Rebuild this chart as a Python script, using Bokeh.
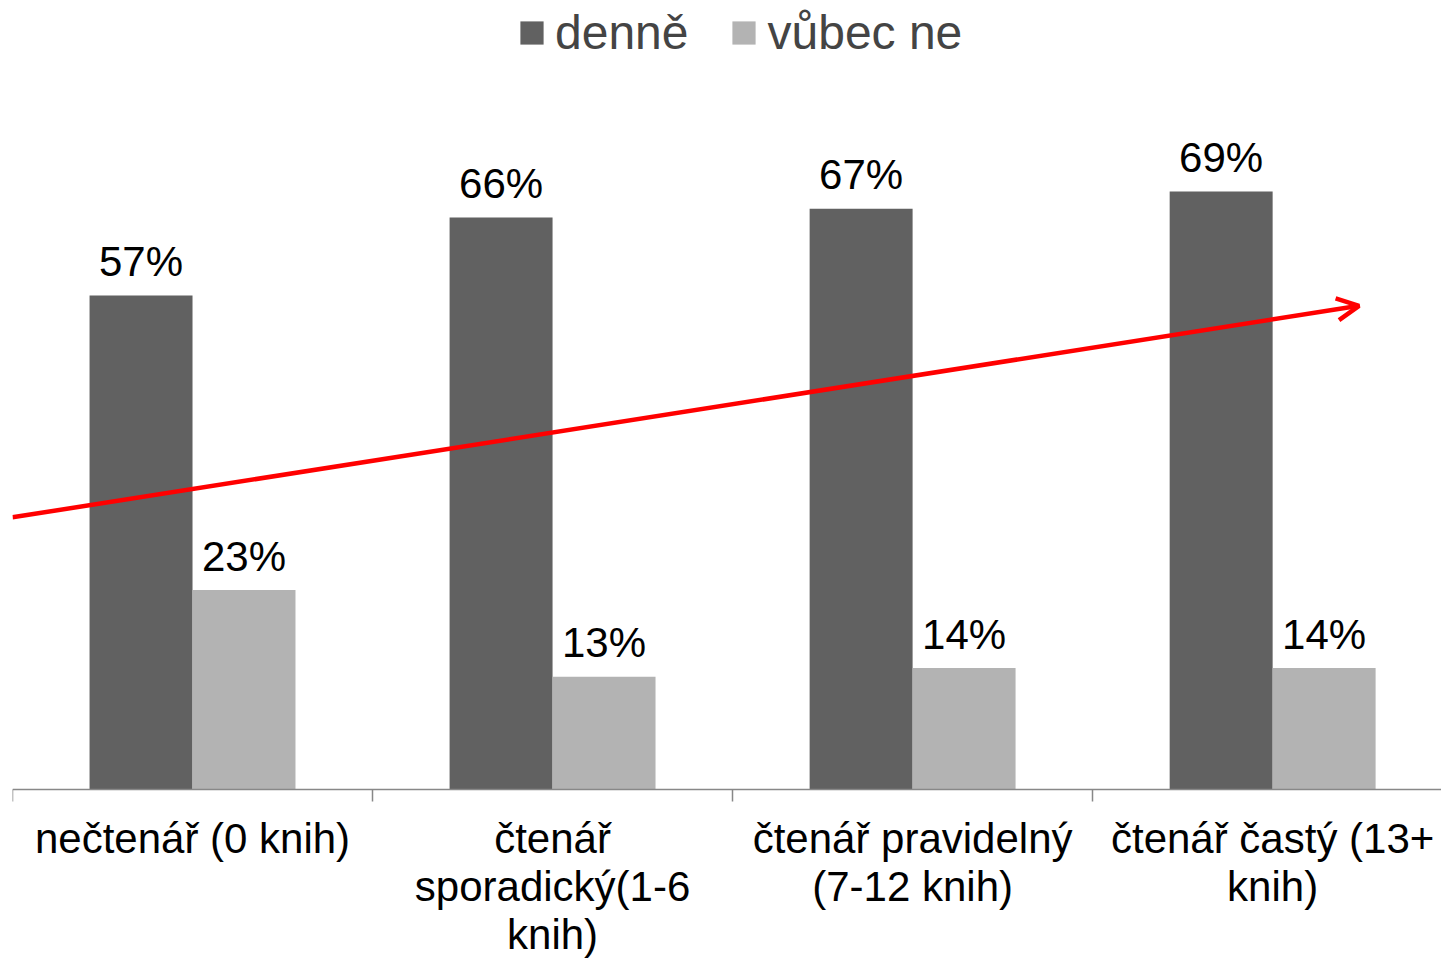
import numpy as np
from bokeh.plotting import figure
from bokeh.models import (ColumnDataSource, Range1d, FixedTicker, Legend, LegendItem,
                          Arrow, OpenHead)
from bokeh.transform import dodge
from bokeh.core.properties import value
from bokeh.embed import file_html
from bokeh.resources import INLINE

# ---- data ----
categories = ["nečtenář (0 knih)",
              "čtenář\nsporadický(1-6\nknih)",
              "čtenář pravidelný\n(7-12 knih)",
              "čtenář častý (13+\nknih)"]
series_names = ["denně", "vůbec ne"]
denne = [57, 66, 67, 69]
vubec_ne = [23, 13, 14, 14]
# trend arrow (start/end in data units: category position, percent)
trend_start = (0.0, 31.4)
trend_end = (3.74, 55.8)

FONT = "Liberation Sans"
DARK = "#616161"
LIGHT = "#b3b3b3"

x = np.arange(len(categories)) + 0.5
src = ColumnDataSource(dict(
    x=x,
    denne=denne,
    vubec=vubec_ne,
    denne_lbl=[f"{v}%" for v in denne],
    vubec_lbl=[f"{v}%" for v in vubec_ne],
))

p = figure(width=1441, height=959, output_backend="svg", toolbar_location=None,
           x_range=Range1d(0, 3.969), y_range=Range1d(-19.62, 91.03),
           min_border_left=12, min_border_right=0, min_border_top=0, min_border_bottom=0)
p.outline_line_color = None
p.grid.visible = False
p.yaxis.visible = False
p.background_fill_color = "white"

bw = 0.286
r1 = p.vbar(x=dodge("x", -bw / 2), top="denne", width=bw, source=src,
            fill_color=DARK, line_color=None)
r2 = p.vbar(x=dodge("x", bw / 2), top="vubec", width=bw, source=src,
            fill_color=LIGHT, line_color=None)

lbl_kw = dict(text_align="center", text_baseline="alphabetic", y_offset=-34,
              text_font_size="42px", text_font=value(FONT), text_color="black")
p.text(x=dodge("x", -bw / 2), y="denne", text="denne_lbl", source=src, **lbl_kw)
p.text(x=dodge("x", bw / 2), y="vubec", text="vubec_lbl", source=src, **lbl_kw)

# x axis at y = 0 with boundary ticks
ax = p.xaxis[0]
ax.fixed_location = 0
ax.ticker = FixedTicker(ticks=list(x), minor_ticks=list(range(len(categories) + 1)))
ax.major_label_overrides = {float(xi): c for xi, c in zip(x, categories)}
ax.major_tick_line_color = None
ax.major_tick_out = 0
ax.major_tick_in = 0
ax.minor_tick_out = 12
ax.minor_tick_in = 0
ax.minor_tick_line_color = "#888888"
ax.minor_tick_line_width = 1.5
ax.axis_line_color = "#888888"
ax.axis_line_width = 1.5
ax.major_label_standoff = 14
ax.major_label_text_font = FONT
ax.major_label_text_font_size = "42px"
ax.major_label_text_color = "black"
ax.major_label_text_line_height = 1.02

# trend arrow
p.add_layout(Arrow(end=OpenHead(size=22, line_color="red", line_width=4.5),
                   x_start=trend_start[0], y_start=trend_start[1],
                   x_end=trend_end[0], y_end=trend_end[1],
                   line_color="red", line_width=4.5))

legend = Legend(items=[LegendItem(label=series_names[0], renderers=[r1]),
                       LegendItem(label=series_names[1], renderers=[r2])],
                orientation="horizontal", location=(505, 899),
                label_text_font=FONT, label_text_font_size="48px",
                glyph_width=29, glyph_height=29, label_standoff=9, spacing=41,
                padding=0, margin=0, border_line_color=None,
                background_fill_alpha=0)
p.add_layout(legend)

open("out.html", "w").write(file_html(p, INLINE))
